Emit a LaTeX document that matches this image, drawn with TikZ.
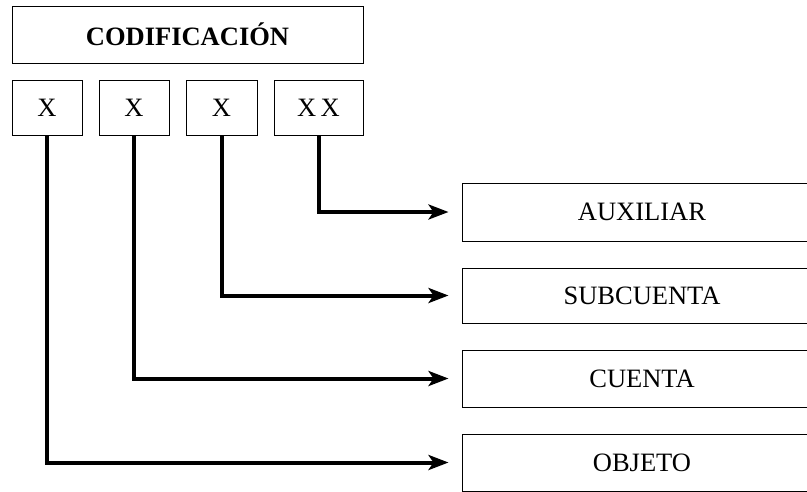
\documentclass[tikz,border=0pt]{standalone}
\usepackage{fontspec}
\setmainfont{Liberation Serif}
\usetikzlibrary{arrows.meta}
\begin{document}
\begin{tikzpicture}[x=1pt,y=-1pt,
		caja/.style={draw,line width=1pt,inner sep=0pt,font=\fontsize{26.5}{31}\selectfont},
		flecha/.style={line width=4pt,-{Stealth[length=20pt,width=15pt,inset=5pt]},shorten >=13pt}]
		\useasboundingbox (0,0) rectangle (807,491);
		% code
		\node[caja,minimum width=351pt,minimum height=57pt,font=\fontsize{26.5}{31}\selectfont\bfseries] (cod) at (187.5,34.5) {CODIFICACIÓN};
		\node[caja,minimum width=70pt,minimum height=55pt] (x1) at (47,107.5) {X};
		\node[caja,minimum width=70pt,minimum height=55pt] (x2) at (134,107.5) {X};
		\node[caja,minimum width=71pt,minimum height=55pt] (x3) at (221.5,107.5) {X};
		\node[caja,minimum width=89pt,minimum height=55pt] (x4) at (318.5,107.5) {X\,X};
		
		% levels
		\node[caja,minimum width=360pt,minimum height=58pt] (aux) at (642,212) {AUXILIAR};
		\node[caja,minimum width=360pt,minimum height=55pt] (sub) at (642,295.5) {SUBCUENTA};
		\node[caja,minimum width=360pt,minimum height=57pt] (cue) at (642,378.5) {CUENTA};
		\node[caja,minimum width=360pt,minimum height=57pt] (obj) at (642,462.5) {OBJETO};
		
		% links
		\draw[flecha] (x4.south) |- (aux.west);
		\draw[flecha] (x3.south) |- (sub.west);
		\draw[flecha] (x2.south) |- (cue.west);
		\draw[flecha] (x1.south) |- (obj.west);
		\end{tikzpicture}
\end{document}
